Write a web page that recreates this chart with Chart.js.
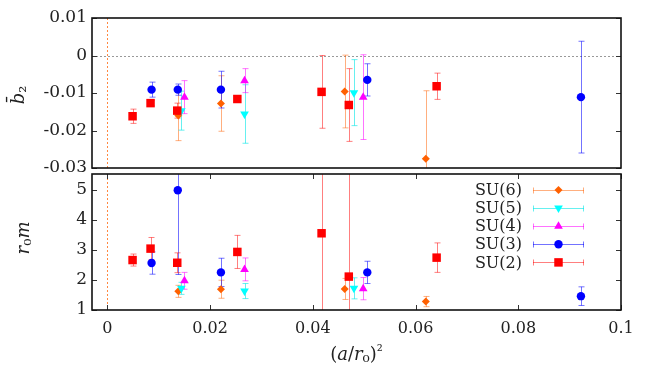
<!DOCTYPE html>
<html>
<head>
<meta charset="utf-8">
<script src="https://cdn.jsdelivr.net/npm/chart.js@4.4.1/dist/chart.umd.min.js"></script>
<style>
body { margin: 0; background: #fff; }
#wrap { position: relative; width: 654px; height: 374px; }
canvas { position: absolute; left: 0; }
#top { top: 0; }
#bottom { top: 168px; }
</style>
</head>
<body>
<div id="wrap">
  <canvas id="bottom" width="654" height="206"></canvas>
  <canvas id="top" width="654" height="180"></canvas>
</div>
<script>
'use strict';

// ticks
const xTickVals = [0, 0.02, 0.04, 0.06, 0.08, 0.1];
const xTickLabels = ['0', '0.02', '0.04', '0.06', '0.08', '0.1'];
const b2TickVals = [-0.03, -0.02, -0.01, 0, 0.01];
const b2TickLabels = ['-0.03', '-0.02', '-0.01', '0', '0.01'];
const rmTickVals = [1, 2, 3, 4, 5];
const rmTickLabels = ['1', '2', '3', '4', '5'];

// legend order (top to bottom)
const groups = ['SU(6)', 'SU(5)', 'SU(4)', 'SU(3)', 'SU(2)'];

// SU(6)
const xSU6 = [0.0138, 0.0221, 0.0462, 0.0620];
const b2SU6 = [-0.0160, -0.0128, -0.0096, -0.0275];
const b2ErrSU6 = [0.0067, 0.0074, 0.0097, 0.0181];
const rmSU6 = [1.62, 1.69, 1.70, 1.28];
const rmErrSU6 = [0.20, 0.30, 0.35, 0.17];

// SU(5)
const xSU5 = [0.0144, 0.0267, 0.0480];
const b2SU5 = [-0.0147, -0.0156, -0.0099];
const b2ErrSU5 = [0.0052, 0.0078, 0.0088];
const rmSU5 = [1.72, 1.63, 1.72];
const rmErrSU5 = [0.20, 0.25, 0.35];

// SU(4)
const xSU4 = [0.0150, 0.0267, 0.0498];
const b2SU4 = [-0.0111, -0.0067, -0.0111];
const b2ErrSU4 = [0.0044, 0.0032, 0.0113];
const rmSU4 = [1.97, 2.35, 1.71];
const rmErrSU4 = [0.28, 0.38, 0.37];

// SU(3)
const xSU3 = [0.0086, 0.0137, 0.0221, 0.0506, 0.0922];
const b2SU3 = [-0.0091, -0.0091, -0.0091, -0.0065, -0.0111];
const b2ErrSU3 = [0.0020, 0.0015, 0.0049, 0.0043, 0.0149];
const rmSU3 = [2.56, 4.98, 2.25, 2.25, 1.46];
const rmErrSU3 = [0.37, 2.80, 0.47, 0.37, 0.31];

// SU(2)
const xSU2 = [0.0049, 0.0084, 0.0136, 0.0253, 0.0417, 0.0470, 0.0641];
const b2SU2 = [-0.0162, -0.0127, -0.0147, -0.0116, -0.0097, -0.0132, -0.0082];
const b2ErrSU2 = [0.0019, 0.0007, 0.0020, 0.0007, 0.0097, 0.0097, 0.0035];
const rmSU2 = [2.66, 3.04, 2.57, 2.93, 3.55, 2.11, 2.74];
const rmErrSU2 = [0.20, 0.37, 0.33, 0.55, 4.0, 4.0, 0.49];

// look of each group, same order as groups
const styles = [
  { color: 'rgb(255,96,0)', err: 'rgba(255,96,0,0.5)', shape: 'rectRot', r: 4, rot: 0 },
  { color: 'rgb(0,255,255)', err: 'rgba(0,230,230,0.6)', shape: 'triangle', r: 5, rot: 180 },
  { color: 'rgb(255,0,255)', err: 'rgba(255,0,255,0.55)', shape: 'triangle', r: 5, rot: 0 },
  { color: 'rgb(0,0,255)', err: 'rgba(0,0,255,0.55)', shape: 'circle', r: 4.2, rot: 0 },
  { color: 'rgb(255,0,0)', err: 'rgba(255,0,0,0.5)', shape: 'rect', r: 6, rot: 0 }
];

const xs = [xSU6, xSU5, xSU4, xSU3, xSU2];
const b2s = [b2SU6, b2SU5, b2SU4, b2SU3, b2SU2];
const b2Errs = [b2ErrSU6, b2ErrSU5, b2ErrSU4, b2ErrSU3, b2ErrSU2];
const rms = [rmSU6, rmSU5, rmSU4, rmSU3, rmSU2];
const rmErrs = [rmErrSU6, rmErrSU5, rmErrSU4, rmErrSU3, rmErrSU2];

const SERIF = 'DejaVu Serif';

function makeDatasets(ys, errs) {
  return groups.map((g, k) => ({
    label: g,
    data: xs[k].map((x, i) => ({ x: x, y: ys[k][i] })),
    err: errs[k],
    errColor: styles[k].err,
    pointStyle: styles[k].shape,
    pointRadius: styles[k].r,
    rotation: styles[k].rot,
    backgroundColor: styles[k].color,
    borderColor: styles[k].color,
    borderWidth: 0,
    order: groups.length - k // SU(2) on top
  }));
}

// error bars + dotted reference lines, under the markers
const errBars = {
  id: 'errBars',
  beforeDatasetsDraw(chart) {
    const { ctx, chartArea: a, scales: { x, y } } = chart;
    ctx.save();
    ctx.beginPath();
    ctx.rect(a.left, a.top, a.right - a.left, a.bottom - a.top);
    ctx.clip();
    ctx.lineWidth = 1;
    // x = 0 line
    const x0 = Math.round(x.getPixelForValue(0)) + 0.5;
    ctx.setLineDash([2, 2]);
    ctx.strokeStyle = 'rgba(255,96,0,0.75)';
    ctx.beginPath(); ctx.moveTo(x0, a.top); ctx.lineTo(x0, a.bottom); ctx.stroke();
    // y = 0 line (only top panel)
    if (chart.options.zeroLine) {
      const y0 = Math.round(y.getPixelForValue(0)) + 0.5;
      ctx.strokeStyle = '#999';
      ctx.beginPath(); ctx.moveTo(a.left, y0); ctx.lineTo(a.right, y0); ctx.stroke();
    }
    ctx.setLineDash([]);
    chart.data.datasets.forEach(ds => {
      ctx.strokeStyle = ds.errColor;
      ds.data.forEach((p, i) => {
        const px = Math.round(x.getPixelForValue(p.x)) + 0.5;
        const y1 = y.getPixelForValue(p.y - ds.err[i]);
        const y2 = y.getPixelForValue(p.y + ds.err[i]);
        ctx.beginPath();
        ctx.moveTo(px, y1); ctx.lineTo(px, y2);
        ctx.moveTo(px - 3, y1); ctx.lineTo(px + 3, y1);
        ctx.moveTo(px - 3, y2); ctx.lineTo(px + 3, y2);
        ctx.stroke();
      });
    });
    ctx.restore();
  }
};

// text made of pieces (italic / upright), centred at cx,cy, optional rotation
function drawRuns(ctx, runs, cx, cy, rot) {
  ctx.save();
  ctx.translate(cx, cy);
  if (rot) ctx.rotate(rot);
  ctx.textBaseline = 'middle';
  ctx.textAlign = 'left';
  ctx.fillStyle = '#222';
  let w = 0;
  runs.forEach(r => { ctx.font = r.font; r.w = ctx.measureText(r.t).width; w += r.w; });
  let px = -w / 2;
  runs.forEach(r => { ctx.font = r.font; ctx.fillText(r.t, px, r.dy || 0); px += r.w; });
  ctx.restore();
}

// frame, inward ticks, titles, legend
const frame = {
  id: 'frame',
  afterDraw(chart) {
    const { ctx, chartArea: a, scales: { x, y } } = chart;
    ctx.save();
    ctx.strokeStyle = '#333';
    ctx.lineWidth = 1;
    ctx.beginPath();
    y.ticks.forEach(t => {
      const py = Math.round(y.getPixelForValue(t.value)) + 0.5;
      ctx.moveTo(a.left, py); ctx.lineTo(a.left + 5, py);
      ctx.moveTo(a.right, py); ctx.lineTo(a.right - 5, py);
    });
    if (chart.options.xTicks) {
      x.ticks.forEach(t => {
        const px = Math.round(x.getPixelForValue(t.value)) + 0.5;
        ctx.moveTo(px, a.bottom); ctx.lineTo(px, a.bottom - 5);
        ctx.moveTo(px, a.top); ctx.lineTo(px, a.top + 5);
      });
    }
    ctx.stroke();
    ctx.strokeStyle = '#111';
    ctx.lineWidth = 1.6;
    ctx.strokeRect(a.left, a.top, a.right - a.left, a.bottom - a.top);
    ctx.restore();

    const it = 'italic 18px "' + SERIF + '"';
    const up = '18px "' + SERIF + '"';
    if (chart.options.panel === 'top') {
      drawRuns(ctx, [{ t: 'b\u0304', font: it }, { t: '\u2082', font: up, dy: 2 }], 19, 95, -Math.PI / 2);
    } else {
      drawRuns(ctx, [{ t: 'r', font: it }, { t: '\u2080', font: up, dy: 2 }, { t: 'm', font: it }], 24, 70, -Math.PI / 2);
      drawRuns(ctx, [
        { t: '(', font: up }, { t: 'a', font: it }, { t: '/', font: up },
        { t: 'r', font: it }, { t: '\u2080', font: up, dy: 2 }, { t: ')', font: up },
        { t: '\u00b2', font: '15px "' + SERIF + '"', dy: -3 }
      ], (a.left + a.right) / 2, 187, 0);

      // legend with error-bar symbols
      const textRight = a.right - 99, x1 = a.right - 88, x2 = a.right - 37, xm = (x1 + x2) / 2;
      groups.forEach((g, k) => {
        const ly = 22 + k * 18.1;
        ctx.save();
        ctx.font = '16px "' + SERIF + '"';
        ctx.fillStyle = '#222';
        ctx.textAlign = 'right';
        ctx.textBaseline = 'middle';
        ctx.fillText(g, textRight, ly + 1);
        const yy = Math.round(ly) + 0.5;
        ctx.strokeStyle = styles[k].err;
        ctx.lineWidth = 1;
        ctx.beginPath();
        ctx.moveTo(x1, yy); ctx.lineTo(x2, yy);
        ctx.moveTo(x1 + 0.5, yy - 3); ctx.lineTo(x1 + 0.5, yy + 3);
        ctx.moveTo(x2 - 0.5, yy - 3); ctx.lineTo(x2 - 0.5, yy + 3);
        ctx.stroke();
        ctx.fillStyle = styles[k].color;
        ctx.strokeStyle = styles[k].color;
        Chart.helpers.drawPoint(ctx, { pointStyle: styles[k].shape, radius: styles[k].r, rotation: styles[k].rot, borderWidth: 0 }, xm, ly);
        ctx.restore();
      });
    }
  }
};

function noPad(s) {
  s.paddingTop = 0; s.paddingBottom = 0; s.paddingLeft = 0; s.paddingRight = 0;
}

function makeOptions(panel, yMin, yMax, yVals, yLabels) {
  const isTop = panel === 'top';
  return {
    responsive: false,
    animation: false,
    panel: panel,
    zeroLine: isTop,
    xTicks: !isTop,
    layout: { padding: { left: 0, right: 33, top: isTop ? 18 : 0, bottom: isTop ? 12 : 0 } },
    plugins: { legend: { display: false }, tooltip: { enabled: false } },
    scales: {
      x: {
        type: 'linear',
        min: -0.003,
        max: 0.1,
        display: !isTop,
        afterBuildTicks: s => { s.ticks = xTickVals.map(v => ({ value: v })); },
        afterFit: s => { s.height = isTop ? 0 : 64; noPad(s); },
        grid: { display: false, drawTicks: false },
        border: { display: false },
        ticks: {
          callback: (v, i) => xTickLabels[i],
          font: { family: SERIF, size: 16 },
          color: '#222',
          padding: 9,
          maxRotation: 0,
          autoSkip: false
        }
      },
      y: {
        type: 'linear',
        min: yMin,
        max: yMax,
        afterBuildTicks: s => { s.ticks = yVals.map(v => ({ value: v })); },
        afterFit: s => { s.width = 92; noPad(s); },
        grid: { display: false, drawTicks: false },
        border: { display: false },
        ticks: {
          callback: (v, i) => yLabels[i],
          font: { family: SERIF, size: 17 },
          color: '#222',
          padding: 5,
          autoSkip: false
        }
      }
    }
  };
}

new Chart(document.getElementById('top').getContext('2d'), {
  type: 'scatter',
  data: { datasets: makeDatasets(b2s, b2Errs) },
  options: makeOptions('top', -0.03, 0.01, b2TickVals, b2TickLabels),
  plugins: [errBars, frame]
});

new Chart(document.getElementById('bottom').getContext('2d'), {
  type: 'scatter',
  data: { datasets: makeDatasets(rms, rmErrs) },
  options: makeOptions('bottom', 1, 5.52, rmTickVals, rmTickLabels),
  plugins: [errBars, frame]
});
</script>
</body>
</html>
